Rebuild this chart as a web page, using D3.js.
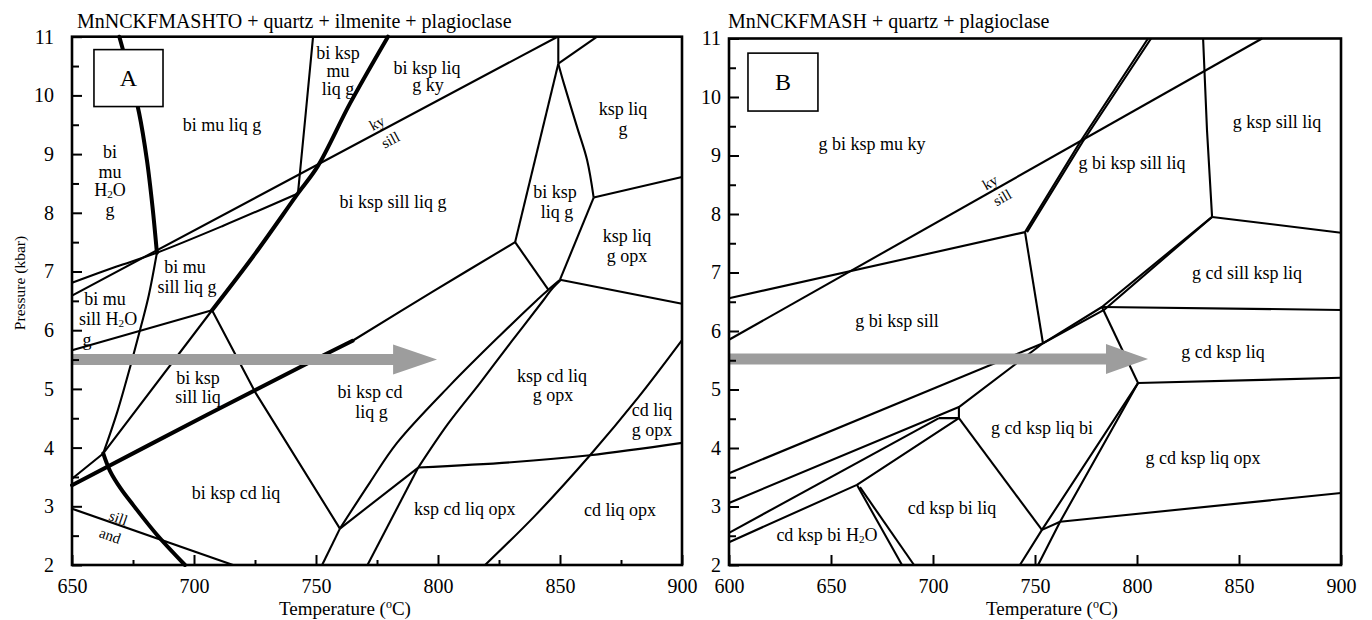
<!DOCTYPE html>
<html>
<head>
<meta charset="utf-8">
<script src="https://cdn.jsdelivr.net/npm/d3@7"></script>
<style>
body { margin: 0; background: #fff; }
svg text { font-family: "Liberation Serif", "Times New Roman", serif; fill: #000; }
</style>
</head>
<body>
<svg id="chart" width="1372" height="620"></svg>
<script>
// ---------- shared ----------
var presTicks = [2, 3, 4, 5, 6, 7, 8, 9, 10, 11];
var presMinor = [2.5, 3.5, 4.5, 5.5, 6.5, 7.5, 8.5, 9.5, 10.5];

// ---------- panel A : MnNCKFMASHTO ----------
var titleA = "MnNCKFMASHTO + quartz + ilmenite + plagioclase";
var tempTicksA = [650, 700, 750, 800, 850, 900];
var tempMinorA = [675, 725, 775, 825, 875];

var kySillA = [[650, 6.59], [849, 11]];
var sillAndA = [[650, 2.96], [716, 2]];

// heavy reactions (drawn smooth)
var thickA = [
    [[669.4, 11], [674, 10.3], [677.5, 9.7], [680.7, 8.9], [683, 8.1], [684.8, 7.32]],
    [[662.8, 3.9], [665.6, 3.6], [670, 3.3], [675.1, 3.02], [684.7, 2.52], [696.3, 2]],
    [[707.4, 6.34], [725, 7.3], [742.6, 8.33], [750.8, 8.8], [763.9, 9.86], [779.5, 11]],
    [[650, 3.36], [705, 4.55], [743.4, 5.37], [765, 5.82]]
];

// thin curved reactions
var curvesA = [
    [[684.8, 7.32], [681.5, 6.6], [678.5, 6.1], [674, 5.4], [668.5, 4.6], [662.8, 3.9]],
    [[849.3, 10.54], [851.6, 10.2], [857, 9.46], [861.1, 8.9], [863.8, 8.26]],
    [[759.8, 2.62], [772, 3.4], [783.2, 4.08], [804.9, 5.06], [825.4, 5.91], [840.5, 6.51], [845.2, 6.69], [850, 6.86]],
    [[791.9, 3.66], [804, 4.4], [817.2, 5.1], [830, 5.8], [843.2, 6.51], [846.4, 6.69], [850.4, 6.86]],
    [[650, 6.81], [668, 7.08], [684.8, 7.32], [712, 7.78], [742.6, 8.33]],
    [[791.9, 3.66], [830, 3.75], [862.3, 3.87], [900, 4.08]],
    [[819.3, 2], [840, 2.85], [862.3, 3.87], [882, 4.85], [900, 5.83]],
    [[765, 5.82], [798, 6.66], [831.6, 7.5]]
];

// thin straight reactions
var thinA = [
    [[748.8, 11], [745.8, 9.7], [742.6, 8.33]],
    [[650, 5.66], [707.4, 6.34]],
    [[650, 3.47], [662.8, 3.9], [707.4, 6.34]],
    [[707.4, 6.34], [725, 4.95], [759.8, 2.62]],
    [[831.6, 7.5], [845.2, 6.69]],
    [[831.6, 7.5], [849.3, 10.54]],
    [[849.3, 10.54], [849.3, 11]],
    [[849.3, 10.54], [865.2, 11]],
    [[863.8, 8.26], [900, 8.61]],
    [[863.8, 8.26], [850, 6.86]],
    [[850, 6.86], [900, 6.45]],
    [[771.1, 2], [791.9, 3.66]],
    [[752.5, 2], [759.8, 2.62]],
    [[759.8, 2.62], [791.9, 3.66]]
];

var labelsA = [
    [711.5, 9.49, "bi mu liq g"],
    [665.6, 9.04, "bi"], [665.6, 8.70, "mu"], [665.6, 8.38, "H2O"], [665.6, 8.04, "g"],
    [759, 10.73, "bi ksp"], [759, 10.42, "mu"], [759, 10.11, "liq g"],
    [795.5, 10.47, "bi ksp liq"], [795.9, 10.17, "g ky"],
    [875.8, 9.77, "ksp liq"], [875.8, 9.43, "g"],
    [781.6, 8.18, "bi ksp sill liq g"],
    [848, 8.35, "bi ksp"], [848.8, 8.02, "liq g"],
    [877.5, 7.61, "ksp liq"], [877.5, 7.27, "g opx"],
    [696.3, 7.07, "bi mu"], [697.1, 6.73, "sill liq g"],
    [663.5, 6.54, "bi mu"], [664.8, 6.19, "sill H2O"], [656.1, 5.83, "g"],
    [701.6, 5.18, "bi ksp"], [701.6, 4.86, "sill liq"],
    [717.2, 3.22, "bi ksp cd liq"],
    [772.1, 4.95, "bi ksp cd"], [772.8, 4.61, "liq g"],
    [846.7, 5.22, "ksp cd liq"], [847.1, 4.89, "g opx"],
    [887.7, 4.64, "cd liq"], [887.7, 4.30, "g opx"],
    [811, 2.95, "ksp cd liq opx"],
    [874.6, 2.94, "cd liq opx"]
];
var kySillLabelsA = [[775, 9.53, "ky"], [780.5, 9.24, "sill"]];
var sillAndLabelsA = [[669, 2.80, "sill"], [665.6, 2.50, "and"]];
var boxA = [[659, 10.78], [687.3, 9.81], "A"];
var arrowA = [650, 781.6, 799.6, 5.5];

// ---------- panel B : MnNCKFMASH ----------
var titleB = "MnNCKFMASH + quartz + plagioclase";
var tempTicksB = [600, 650, 700, 750, 800, 850, 900];

var kySillB = [[600, 5.85], [861.3, 11]];

var thinB = [
    [[600, 6.56], [745.1, 7.69]],
    [[745.1, 7.69], [772.1, 9.23], [805.4, 11]],
    [[746.1, 7.69], [773.3, 9.23], [806.9, 11]],
    [[745.1, 7.69], [753.9, 5.79]],
    [[753.9, 5.79], [782.8, 6.41], [836.8, 7.95]],
    [[753.9, 5.79], [783.8, 6.36], [836.8, 7.95]],
    [[600, 3.57], [753.9, 5.79]],
    [[600, 3.06], [712.7, 4.70], [753.9, 5.79]],
    [[600, 2.55], [702.9, 4.51]],
    [[702.9, 4.51], [712.7, 4.51], [712.7, 4.70]],
    [[600, 2.39], [662.7, 3.37], [712.7, 4.51]],
    [[712.7, 4.51], [753.4, 2.60]],
    [[662.7, 3.37], [684.8, 2]],
    [[664.2, 3.33], [690.7, 2]],
    [[742.6, 2], [753.4, 2.60], [800.5, 5.11]],
    [[751.5, 2], [762.3, 2.74], [800.5, 5.11]],
    [[753.4, 2.60], [762.3, 2.74], [900, 3.23]],
    [[782.8, 6.41], [800.5, 5.11]],
    [[782.8, 6.41], [900, 6.36]],
    [[800.5, 5.11], [900, 5.2]],
    [[836.8, 7.95], [900, 7.68]],
    [[836.8, 7.95], [834.3, 9.44], [832.4, 11]]
];

var labelsB = [
    [670.1, 9.20, "g bi ksp mu ky"],
    [682.4, 6.17, "g bi ksp sill"],
    [797.5, 8.87, "g bi ksp sill liq"],
    [868.6, 9.57, "g ksp sill liq"],
    [853.9, 6.99, "g cd sill ksp liq"],
    [842.2, 5.64, "g cd ksp liq"],
    [753.4, 4.34, "g cd ksp liq bi"],
    [832.4, 3.83, "g cd ksp liq opx"],
    [709.3, 2.97, "cd ksp bi liq"],
    [648, 2.51, "cd ksp bi H2O"]
];
var kySillLabelsB = [[728, 8.54, "ky"], [734, 8.28, "sill"]];
var boxB = [[609.3, 10.75], [643.6, 9.76], "B"];
var arrowB = [600, 784.8, 805.4, 5.52];

// ---------- drawing ----------
var svg = d3.select("#chart");
svg.append("rect").attr("width", 1372).attr("height", 620).attr("fill", "#fff");

function writeText(sel, s, size) {
    var parts = s.split("H2O");
    parts.forEach(function (p, i) {
        if (i > 0) {
            sel.append("tspan").text("H");
            sel.append("tspan").attr("font-size", size * 0.62).attr("dy", 4).text("2");
            sel.append("tspan").attr("dy", -4).text("O");
        }
        if (p.length) sel.append("tspan").text(p);
    });
}

function drawPanel(c) {
    var x = d3.scaleLinear().domain([c.ticksX[0], c.ticksX[c.ticksX.length - 1]]).range([c.left, c.right]);
    var y = d3.scaleLinear().domain([2, 11]).range([c.bottom, c.top]);
    var g = svg.append("g");
    var line = d3.line().x(function (d) { return x(d[0]); }).y(function (d) { return y(d[1]); });
    var smooth = d3.line().curve(d3.curveCatmullRom.alpha(0.5))
        .x(function (d) { return x(d[0]); }).y(function (d) { return y(d[1]); });

    g.selectAll(".thin").data(c.thin.concat([c.kySill], c.sillAnd ? [c.sillAnd] : []))
        .enter().append("path")
        .attr("d", line)
        .attr("fill", "none")
        .attr("stroke", "#000")
        .attr("stroke-width", 2.1)
        .attr("stroke-linejoin", "round");

    g.selectAll(".curve").data(c.curves || [])
        .enter().append("path")
        .attr("d", smooth)
        .attr("fill", "none")
        .attr("stroke", "#000")
        .attr("stroke-width", 2.1);

    g.selectAll(".thick").data(c.thick || [])
        .enter().append("path")
        .attr("d", smooth)
        .attr("fill", "none")
        .attr("stroke", "#000")
        .attr("stroke-width", 4)
        .attr("stroke-linecap", "round");

    // grey arrow
    var a = c.arrow, ay = y(a[3]);
    g.append("path")
        .attr("d", "M" + x(a[0]) + "," + (ay - 5.5) + "H" + x(a[1]) + "V" + (ay - 15) +
            "L" + x(a[2]) + "," + ay + "L" + x(a[1]) + "," + (ay + 15) + "V" + (ay + 5.5) +
            "H" + x(a[0]) + "Z")
        .attr("fill", "#9d9d9d");

    // axes, ticks pointing inward
    function styleAxis(s) {
        s.select(".domain").remove();
        s.attr("font-family", "Liberation Serif, serif").attr("font-size", 20);
        s.selectAll("line").attr("stroke", "#000").attr("stroke-width", 2);
        s.selectAll("text").attr("fill", "#000");
    }
    g.append("g").attr("transform", "translate(" + c.left + ",0)")
        .call(d3.axisLeft(y).tickValues(presTicks).tickSize(-10).tickPadding(c.yPad).tickFormat(d3.format("d")))
        .call(styleAxis);
    g.append("g").attr("transform", "translate(" + c.left + ",0)")
        .call(d3.axisLeft(y).tickValues(presMinor).tickSize(-7).tickFormat(""))
        .call(styleAxis);
    g.append("g").attr("transform", "translate(0," + c.bottom + ")")
        .call(d3.axisBottom(x).tickValues(c.ticksX).tickSize(-10).tickPadding(14).tickFormat(d3.format("d")))
        .call(styleAxis);
    if (c.minorX) {
        g.append("g").attr("transform", "translate(0," + c.bottom + ")")
            .call(d3.axisBottom(x).tickValues(c.minorX).tickSize(-5).tickFormat(""))
            .call(styleAxis);
    }

    // frame
    g.append("rect")
        .attr("x", c.left).attr("y", c.top)
        .attr("width", c.right - c.left).attr("height", c.bottom - c.top)
        .attr("fill", "none").attr("stroke", "#000").attr("stroke-width", 2.6);

    // region labels
    c.labels.forEach(function (d) {
        var t = g.append("text")
            .attr("x", x(d[0])).attr("y", y(d[1]))
            .attr("text-anchor", "middle")
            .attr("dominant-baseline", "central")
            .attr("font-size", 18);
        writeText(t, d[2], 18);
    });

    function rotated(labels, ln) {
        var ang = Math.atan2(y(ln[1][1]) - y(ln[0][1]), x(ln[1][0]) - x(ln[0][0])) * 180 / Math.PI;
        labels.forEach(function (d) {
            g.append("text")
                .attr("transform", "translate(" + x(d[0]) + "," + y(d[1]) + ") rotate(" + ang + ")")
                .attr("text-anchor", "middle")
                .attr("dominant-baseline", "central")
                .attr("font-size", 15)
                .text(d[2]);
        });
    }
    rotated(c.kyLabels, c.kySill);
    if (c.sillAnd) rotated(c.sillAndLabels, c.sillAnd);

    // panel letter box
    var b = c.box;
    g.append("rect")
        .attr("x", x(b[0][0])).attr("y", y(b[0][1]))
        .attr("width", x(b[1][0]) - x(b[0][0])).attr("height", y(b[1][1]) - y(b[0][1]))
        .attr("fill", "#fff").attr("stroke", "#000").attr("stroke-width", 1.6);
    g.append("text")
        .attr("x", (x(b[0][0]) + x(b[1][0])) / 2).attr("y", (y(b[0][1]) + y(b[1][1])) / 2)
        .attr("text-anchor", "middle").attr("dominant-baseline", "central")
        .attr("font-size", 24).text(b[2]);

    // titles
    g.append("text").attr("x", c.left + c.titleDx).attr("y", 28).attr("font-size", 20).text(c.title);
    var tt = g.append("text").attr("x", c.xTitleX).attr("y", 615).attr("text-anchor", "middle").attr("font-size", 19);
    tt.append("tspan").text("Temperature (");
    tt.append("tspan").attr("font-size", 12).attr("dy", -7).text("o");
    tt.append("tspan").attr("dy", 7).text("C)");
}

drawPanel({
    left: 72, right: 682, top: 36.7, bottom: 565,
    ticksX: tempTicksA, minorX: tempMinorA, yPad: 18,
    thin: thinA, curves: curvesA, thick: thickA, kySill: kySillA, sillAnd: sillAndA,
    labels: labelsA, kyLabels: kySillLabelsA, sillAndLabels: sillAndLabelsA,
    box: boxA, arrow: arrowA, title: titleA, titleDx: 5, xTitleX: 345
});
drawPanel({
    left: 729, right: 1341, top: 38.5, bottom: 565,
    ticksX: tempTicksB, minorX: null, yPad: 8,
    thin: thinB, curves: null, thick: null, kySill: kySillB, sillAnd: null,
    labels: labelsB, kyLabels: kySillLabelsB,
    box: boxB, arrow: arrowB, title: titleB, titleDx: -1, xTitleX: 1052
});

svg.append("text")
    .attr("transform", "translate(19,283) rotate(-90)")
    .attr("text-anchor", "middle")
    .attr("dominant-baseline", "central")
    .attr("font-size", 15.5)
    .text("Pressure (kbar)");
</script>
</body>
</html>
